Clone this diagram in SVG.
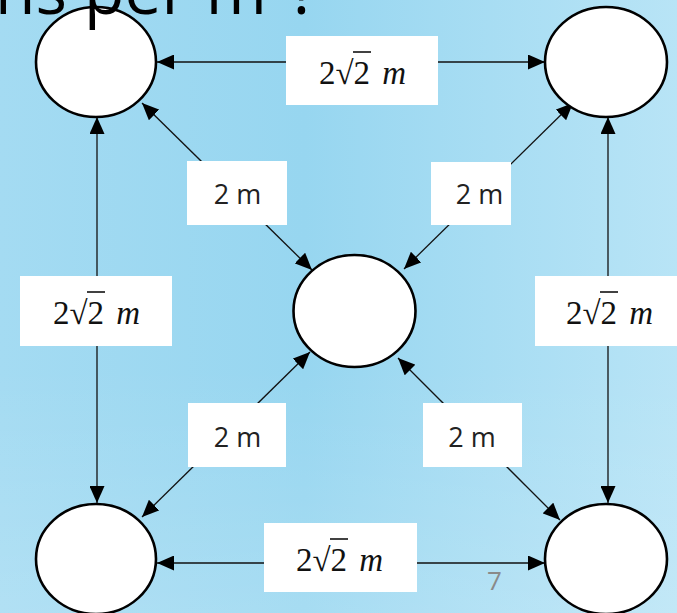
<svg xmlns="http://www.w3.org/2000/svg" width="677" height="613" viewBox="0 0 677 613">
  <defs>
    <linearGradient id="bgH" x1="0" y1="0" x2="1" y2="0">
      <stop offset="0" stop-color="#A4DBF2"/>
      <stop offset="0.45" stop-color="#97D6F0"/>
      <stop offset="1" stop-color="#B8E4F6"/>
    </linearGradient>
    <linearGradient id="bgV" x1="0" y1="0" x2="0" y2="1">
      <stop offset="0" stop-color="#FFFFFF" stop-opacity="0"/>
      <stop offset="0.6" stop-color="#FFFFFF" stop-opacity="0"/>
      <stop offset="1" stop-color="#FFFFFF" stop-opacity="0.15"/>
    </linearGradient>
    <marker id="head" viewBox="0 0 17 15" refX="17" refY="7.5" markerWidth="17" markerHeight="15" markerUnits="userSpaceOnUse" orient="auto-start-reverse">
      <path d="M0,0 L17,7.5 L0,15 Z" fill="#000"/>
    </marker>
  </defs>
  <style>
    .node { fill: #FFFFFF; stroke: #000; stroke-width: 2.6; }
    .conn { stroke: #111; stroke-width: 1.3; fill: none; marker-start: url(#head); marker-end: url(#head); }
    .box { fill: #FFFFFF; }
    .dist { font-family: "Open Sans", "Noto Sans", sans-serif; font-size: 27px; fill: #222; text-anchor: middle; }
    .math { font-family: "Liberation Serif", "DejaVu Serif", serif; font-size: 33px; fill: #111; }
    .math .var { font-style: italic; }
    .vinc { stroke: #111; stroke-width: 1.6; }
  </style>

  <!-- background -->
  <rect x="0" y="0" width="677" height="613" fill="url(#bgH)"/>
  <rect x="0" y="0" width="677" height="613" fill="url(#bgV)"/>

  <!-- connectors: double-headed distance arrows -->
  <g id="connectors">
    <line class="conn" x1="157" y1="62" x2="545" y2="62"/>
    <line class="conn" x1="157" y1="563" x2="545" y2="563"/>
    <line class="conn" x1="97" y1="117" x2="97" y2="503"/>
    <line class="conn" x1="608" y1="117" x2="608" y2="503"/>
    <line class="conn" x1="142" y1="103" x2="312" y2="270"/>
    <line class="conn" x1="573" y1="103" x2="404" y2="269"/>
    <line class="conn" x1="310" y1="352" x2="142" y2="517"/>
    <line class="conn" x1="398" y1="358" x2="560" y2="520"/>
  </g>

  <!-- plant positions -->
  <g id="node-top-left"><ellipse class="node" cx="96" cy="62" rx="60" ry="55"/></g>
  <g id="node-top-right"><ellipse class="node" cx="606" cy="62" rx="61" ry="55"/></g>
  <g id="node-bottom-left"><ellipse class="node" cx="96" cy="559" rx="60" ry="55"/></g>
  <g id="node-bottom-right"><ellipse class="node" cx="606" cy="559" rx="61" ry="55"/></g>
  <g id="node-center"><ellipse class="node" cx="354.5" cy="311" rx="61" ry="56"/></g>

  <!-- side labels: 2√2 m (radical bar drawn as a line) -->
  <g id="label-top">
    <rect class="box" x="286" y="36" width="152" height="69"/>
    <text class="math" x="319" y="84">2√2<tspan class="var" dx="12">m</tspan></text>
    <line class="vinc" x1="353" y1="52" x2="371" y2="52"/>
  </g>
  <g id="label-left">
    <rect class="box" x="20" y="276" width="152" height="70"/>
    <text class="math" x="53" y="324">2√2<tspan class="var" dx="12">m</tspan></text>
    <line class="vinc" x1="87" y1="292" x2="105" y2="292"/>
  </g>
  <g id="label-right">
    <rect class="box" x="535" y="276" width="152" height="70"/>
    <text class="math" x="566" y="324">2√2<tspan class="var" dx="12">m</tspan></text>
    <line class="vinc" x1="600" y1="292" x2="618" y2="292"/>
  </g>
  <g id="label-bottom">
    <rect class="box" x="264" y="523" width="153" height="69"/>
    <text class="math" x="296" y="571">2√2<tspan class="var" dx="12">m</tspan></text>
    <line class="vinc" x1="330" y1="539" x2="348" y2="539"/>
  </g>

  <!-- diagonal labels: 2 m -->
  <g id="label-diag-tl">
    <rect class="box" x="187" y="161" width="100" height="64"/>
    <text class="dist" x="237.5" y="204">2 m</text>
  </g>
  <g id="label-diag-tr">
    <rect class="box" x="431" y="162" width="80" height="63"/>
    <text class="dist" x="479.5" y="204">2 m</text>
  </g>
  <g id="label-diag-bl">
    <rect class="box" x="188" y="403" width="98" height="64"/>
    <text class="dist" x="237.5" y="447">2 m</text>
  </g>
  <g id="label-diag-br">
    <rect class="box" x="423" y="403" width="99" height="64"/>
    <text class="dist" x="472" y="447">2 m</text>
  </g>

  <!-- slide number -->
  <text x="487" y="590" font-family="'Open Sans', 'Noto Sans', sans-serif" font-size="26" fill="#8A8A8A">7</text>

  <!-- slide heading, running off the top edge -->
  <text x="-5" y="14" font-family="'Open Sans', 'Noto Sans', sans-serif" font-size="66" fill="#000">ns per m²?</text>
</svg>
